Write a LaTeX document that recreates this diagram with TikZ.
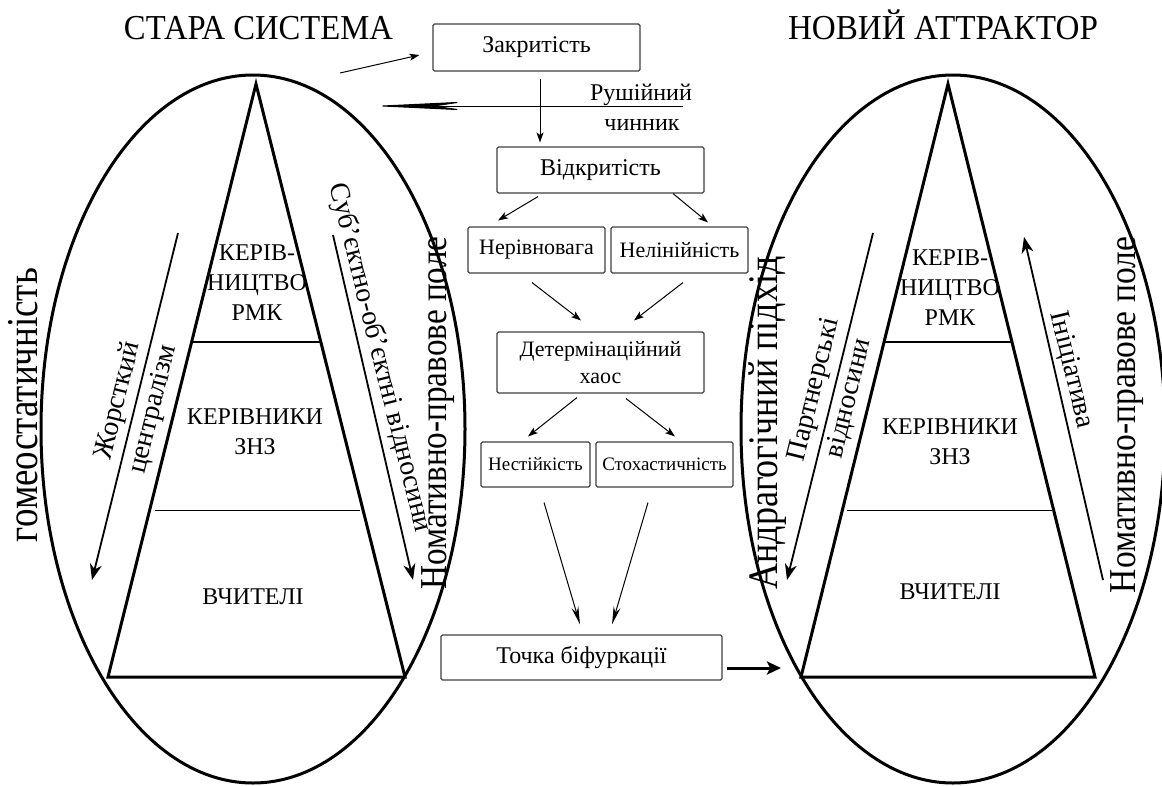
\documentclass[tikz,border=0pt]{standalone}
\usepackage{fontspec}
\usepackage{graphicx}
\setmainfont{Liberation Serif}
\usetikzlibrary{arrows.meta,calc,shapes.geometric}
\newcommand\fitto[2]{\resizebox{#1}{\height}{#2}}
\newcommand\fs[2]{\fontsize{#1}{#2}\selectfont}
\begin{document}
\begin{tikzpicture}[x=1pt,y=1pt,
  box/.style={draw=black!75, line width=1.1pt, rounded corners=1.5pt, inner sep=0pt, align=center},
  ell/.style={draw, ellipse, line width=3pt, inner sep=0pt},
  tri/.style={line width=3pt, line join=miter},
  arr/.style={line width=1pt, -{Stealth[length=10pt,width=7pt,inset=2.5pt]}},
  larr/.style={line width=1pt, -{Stealth[length=18pt,width=7pt,inset=6pt]}},
  earr/.style={line width=1.8pt, -{Stealth[length=16pt,width=12pt,inset=5pt]}},
  longarr/.style={line width=1pt, -{Stealth[length=95pt,width=9pt,inset=30pt]}},
  thickarr/.style={line width=3pt, -{Stealth[length=14pt,width=13pt,inset=3pt]}},
  rot/.style={inner sep=0pt, align=center}
]
\fill[white] (0,0) rectangle (1162,-785);
\useasboundingbox (0,0) rectangle (1162,-785);

% titles
\node[anchor=base, inner sep=0pt, font=\fs{35}{35}] (t1) at (258.5,-39) {\fitto{269pt}{СТАРА СИСТЕМА}};
\node[anchor=base, inner sep=0pt, font=\fs{35}{35}] (t2) at (943,-39) {\fitto{310pt}{НОВИЙ АТТРАКТОР}};

% ellipses
\node[ell, minimum width=424pt, minimum height=708pt] (eL) at (253,-429) {};
\node[ell, minimum width=424pt, minimum height=708pt] (eR) at (953,-429) {};

% triangles
\draw[tri] (256,-84) -- (108,-677) -- (405,-677) -- cycle;
\draw[line width=2pt] (191,-342) -- (322,-342);
\draw[line width=1pt] (155,-510) -- (360,-510);
\draw[tri] (948,-84) -- (801,-677) -- (1095,-677) -- cycle;
\draw[line width=2pt] (883,-342) -- (1013,-342);
\draw[line width=1pt] (847,-510) -- (1053,-510);

% triangle texts
\node[rot, font=\fs{24}{30}] (l1) at (257,-283) {КЕРІВ-\\НИЦТВО\\РМК};
\node[rot, font=\fs{24}{30}] (l2) at (255,-432) {КЕРІВНИКИ\\ЗНЗ};
\node[rot, font=\fs{24}{30}] (l3) at (253,-597) {ВЧИТЕЛІ};
\node[rot, font=\fs{24}{30}] (r1) at (950,-288) {КЕРІВ-\\НИЦТВО\\РМК};
\node[rot, font=\fs{24}{30}] (r2) at (950,-442) {КЕРІВНИКИ\\ЗНЗ};
\node[rot, font=\fs{24}{30}] (r3) at (950,-592) {ВЧИТЕЛІ};

% side rotated texts
\node[rot, rotate=90, anchor=base, font=\fs{44}{44}] (hom) at (37,-405) {\fitto{274pt}{гомеостатичність}};
\node[rot, rotate=90, anchor=base, font=\fs{38}{38}] (nomL) at (446,-413) {\fitto{353pt}{Номативно-правове поле}};
\node[rot, rotate=90, anchor=base, font=\fs{38}{38}] (nomR) at (1135,-415) {\fitto{356pt}{Номативно-правове поле}};
\node[rot, rotate=90, anchor=base, font=\fs{42}{42}] (andr) at (777,-423) {\fitto{333pt}{Андрагогічний підхід}};

% inner arrows
\coordinate (jA) at (178,-233); \coordinate (jB) at (92,-580);
\draw[earr] (jA) -- (jB);
\coordinate (sA) at (333,-235); \coordinate (sB) at (413,-580);
\draw[earr] (sA) -- (sB);
\coordinate (pA) at (873,-233); \coordinate (pB) at (787,-580);
\draw[earr] (pA) -- (pB);
\coordinate (iA) at (1103,-580); \coordinate (iB) at (1024,-237);
\draw[earr] (iA) -- (iB);

\node[rot, rotate=76.1, font=\fs{28}{36}] (zh) at (136,-405) {Жорсткий\\централізм};
\node[rot, rotate=-76, font=\fs{28}{36}] (sub) at (380,-358) {Суб’єктно-об’єктні відносини};
\node[rot, rotate=76.1, font=\fs{28}{36}] (part) at (832,-394) {Партнерські\\відносини};
\node[rot, rotate=-76.5, font=\fs{28}{36}] (ini) at (1071,-370) {Ініціатива};

% central boxes
\node[box, minimum width=207pt, minimum height=47pt, font=\fs{24}{29}] (zak) at (536.5,-47.5) {Закритість};
\node[box, minimum width=207pt, minimum height=46pt, font=\fs{24}{29}] (vid) at (600.5,-170) {Відкритість};
\node[box, minimum width=137pt, minimum height=46pt, font=\fs{22}{27}] (ner) at (536.5,-250) {Нерівновага};
\node[box, minimum width=137pt, minimum height=46pt, font=\fs{22}{27}] (nel) at (679.5,-250) {Нелінійність};
\node[box, minimum width=207pt, minimum height=61pt, font=\fs{22}{27}] (det) at (600.5,-362.5) {Детермінаційний\\хаос};
\node[box, minimum width=109pt, minimum height=45pt, font=\fs{19}{23}] (nes) at (535.5,-464.5) {Нестійкість};
\node[box, minimum width=137pt, minimum height=45pt, font=\fs{19}{23}] (sto) at (664.5,-464.5) {Стохастичність};
\node[box, minimum width=281pt, minimum height=45pt, font=\fs{24}{29}] (toch) at (581.5,-657.5) {Точка біфуркації};

\node[anchor=base, inner sep=0pt, font=\fs{24}{29}] (rush1) at (641,-100) {Рушійний};
\node[anchor=base, inner sep=0pt, font=\fs{24}{29}] (rush2) at (642,-130) {чинник};

% connectors
\coordinate (a1s) at (340,-73);
\draw[arr] (a1s) -- ($(zak.west)+(-13,-7.5)$);
\coordinate (rs) at (683,-106); \coordinate (re) at (372,-106);
\draw[longarr] (rs) -- (re);
\draw[arr] ($(zak.south)+(3.5,-7)$) -- ($(vid.north)+(-60.5,4)$);
\draw[arr] ($(vid.south)+(-62.5,-3)$) -- ($(ner.north)+(-38.5,6)$);
\draw[arr] ($(vid.south)+(72.5,0)$) -- ($(nel.north)+(28.5,4)$);
\draw[arr] ($(ner.south)+(-4.5,-9)$) -- ($(det.north)+(-19.5,11)$);
\draw[arr] ($(nel.south)+(3.5,-9)$) -- ($(det.north)+(33.5,11)$);
\draw[arr] ($(det.south)+(-23.5,-4)$) -- ($(nes.north)+(-7.5,5)$);
\draw[arr] ($(det.south)+(25.5,-5)$) -- ($(sto.north)+(10.5,5)$);
\draw[larr] ($(nes.south)+(8.5,-15)$) -- ($(toch.north)+(-1.5,10)$);
\draw[larr] ($(sto.south)+(-16.5,-15)$) -- ($(toch.north)+(30.5,10)$);
\coordinate (tipR) at (781,-668);
\draw[thickarr] ($(toch.east)+(4,-10.5)$) -- (tipR);
\end{tikzpicture}
\end{document}
